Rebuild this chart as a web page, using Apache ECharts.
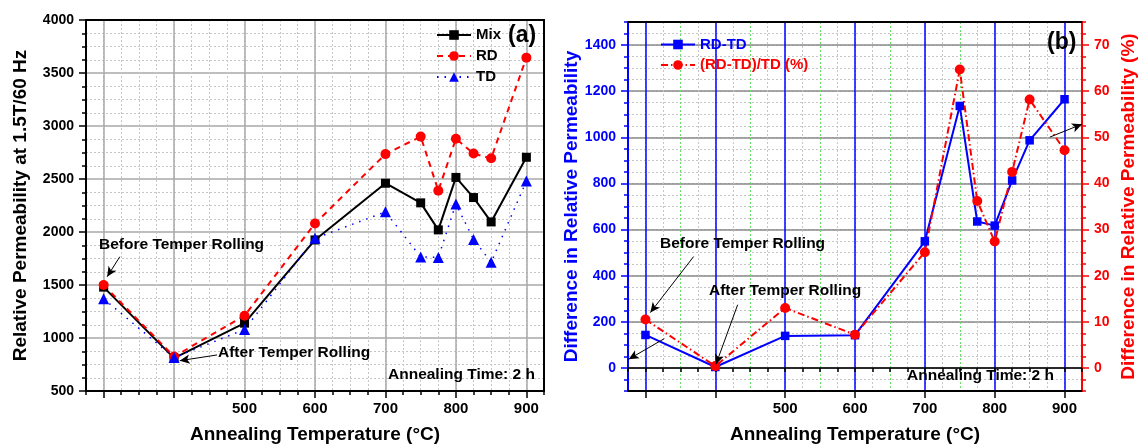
<!DOCTYPE html>
<html>
<head>
<meta charset="utf-8">
<script src="https://cdn.jsdelivr.net/npm/echarts@6/dist/echarts.min.js"></script>
<style>
  html, body { margin: 0; padding: 0; background: #fff; }
  #chart { width: 1139px; height: 445px; }
</style>
</head>
<body>
<div id="chart"></div>
<script>
// Sample positions on the temperature axis (300 = before, 400 = after temper rolling)
const xPositions = [300, 400, 500, 600, 700, 750, 775, 800, 825, 850, 900];
const xTickLabels = [500, 600, 700, 800, 900];
const xMajorTicks = [300, 400, 500, 600, 700, 800, 900];
const xHalfTicks = [350, 450, 550, 650, 750, 850];

// Panel (a): relative permeability at 1.5T / 60 Hz
const mixPerm = [1480, 810, 1140, 1925, 2460, 2275, 2020, 2515, 2325, 2095, 2705];
const rdPerm  = [1500, 825, 1210, 2080, 2735, 2900, 2390, 2880, 2740, 2695, 3645];
const tdPerm  = [1370, 815, 1080, 1940, 2190, 1765, 1760, 2265, 1930, 1715, 2480];

// Panel (b): RD-TD difference (absolute and percent)
const diffAbs = [143, 4, 139, 142, 549, 1136, 635, 617, 813, 987, 1165];
const diffPct = [10.5, 0.4, 13.0, 7.2, 25.1, 64.7, 36.2, 27.4, 42.5, 58.2, 47.2];
const leftTicksB = [0, 200, 400, 600, 800, 1000, 1200, 1400];
const rightTicksB = [0, 10, 20, 30, 40, 50, 60, 70];

const FONT = "'Liberation Sans', Arial, sans-serif";
const pairs = (xs, ys) => xs.map((x, i) => [x, ys[i]]);
const plain = (v) => String(v);

const chart = echarts.init(document.getElementById('chart'), null, { renderer: 'canvas' });

const boldLabel = (color, size, margin, extra) => Object.assign({
  show: true, color: color, fontFamily: FONT, fontWeight: 'bold', fontSize: size, margin: margin,
  formatter: plain
}, extra || {});
const nameStyle = (color) => ({ color: color, fontFamily: FONT, fontWeight: 'bold', fontSize: 19 });
const none = { show: false };

function xMinor(grid) {
  return {
    type: 'value', gridIndex: grid, min: 275, max: 925, interval: 25, position: 'bottom',
    axisLine: none,
    axisTick: { show: true, inside: false, length: 4, lineStyle: { color: '#000', width: 1.5 } },
    axisLabel: none,
    splitLine: { show: true, showMinLine: false, showMaxLine: false,
      lineStyle: { color: '#c6c6c6', width: 1, type: [2, 2] } }
  };
}
function xMajor(grid, gridColor, gridWidth) {
  return {
    type: 'value', gridIndex: grid, min: 275, max: 925, position: 'bottom',
    name: 'Annealing Temperature (\u00b0C)', nameLocation: 'middle', nameGap: 34,
    nameTextStyle: nameStyle('#000'),
    axisLine: { show: true, onZero: false, lineStyle: { color: '#000', width: 2 } },
    axisTick: { show: true, inside: false, length: 7, customValues: xMajorTicks,
      lineStyle: { color: '#000', width: 1.5 } },
    axisLabel: boldLabel('#000', 15, 10, { customValues: xTickLabels }),
    splitLine: { show: true, lineStyle: { color: gridColor, width: gridWidth } }
  };
}
function xTop(grid) {
  return {
    type: 'value', gridIndex: grid, min: 275, max: 925, position: 'top',
    axisLine: { show: true, onZero: false, lineStyle: { color: '#000', width: 2 } },
    axisTick: none, axisLabel: none, splitLine: none
  };
}

// Arrow from a text label towards a point, in data coordinates
const arrow = (from, to) => [
  { coord: from, symbol: 'none' },
  { coord: to, symbol: 'arrow', symbolSize: [7, 10] }
];

const textFont = "bold 15.5px 'Liberation Sans', Arial";
const note = (x, y, text, font) => ({
  type: 'text', x: x, y: y, z: 100,
  style: { text: text, fill: '#000', font: font || textFont, verticalAlign: 'middle' }
});

const option = {
  animation: false,
  backgroundColor: '#fff',
  textStyle: { fontFamily: FONT },
  grid: [
    { left: 86, top: 20, width: 458, height: 371, outerBoundsMode: 'none', containLabel: false },
    { left: 628, top: 22, width: 454, height: 369, outerBoundsMode: 'none', containLabel: false }
  ],
  legend: [
    {
      orient: 'vertical', left: 436, top: 27.5, padding: 0, itemWidth: 34, itemHeight: 12, itemGap: 6,
      data: ['Mix', 'RD', 'TD'],
      textStyle: { color: '#000', fontFamily: FONT, fontWeight: 'bold', fontSize: 15 }
    },
    {
      orient: 'vertical', left: 660, top: 37, padding: 0, itemWidth: 34, itemHeight: 12, itemGap: 5.5,
      data: [
        { name: 'RD-TD', textStyle: { color: '#0000ff' } },
        { name: '(RD-TD)/TD (%)', textStyle: { color: '#ff0000' } }
      ],
      textStyle: { fontFamily: FONT, fontWeight: 'bold', fontSize: 15 }
    }
  ],
  xAxis: [
    xMinor(0),                                  // 0
    xMajor(0, '#a9a9a9', 1.5),                  // 1
    xTop(0),                                    // 2
    xMinor(1),                                  // 3
    {                                           // 4: green dotted half-hundred lines
      type: 'value', gridIndex: 1, min: 275, max: 925, position: 'bottom',
      axisLine: none, axisTick: { show: false, customValues: xHalfTicks }, axisLabel: none,
      splitLine: { show: true, lineStyle: { color: '#66e066', width: 1, type: [2, 2] } }
    },
    xMajor(1, '#0000ff', 1.5),                  // 5
    xTop(1)                                     // 6
  ],
  yAxis: [
    {                                           // 0: panel (a)
      type: 'value', gridIndex: 0, min: 500, max: 4000, interval: 500, position: 'left',
      name: 'Relative Permeability at 1.5T/60 Hz', nameLocation: 'middle', nameGap: 56,
      nameRotate: 90, nameTextStyle: nameStyle('#000'),
      axisLine: { show: true, onZero: false, lineStyle: { color: '#000', width: 2 } },
      axisTick: { show: true, inside: false, length: 7, lineStyle: { color: '#000', width: 1.5 } },
      minorTick: { show: true, splitNumber: 4, length: 4, lineStyle: { color: '#000', width: 1.5 } },
      axisLabel: boldLabel('#000', 14, 12),
      splitLine: { show: true, showMaxLine: false, lineStyle: { color: '#a9a9a9', width: 1.5 } },
      minorSplitLine: { show: true, lineStyle: { color: '#c6c6c6', width: 1, type: [2, 2] } }
    },
    {                                           // 1: frame on the right of (a)
      type: 'value', gridIndex: 0, min: 500, max: 4000, position: 'right',
      axisLine: { show: true, onZero: false, lineStyle: { color: '#000', width: 2 } },
      axisTick: none, axisLabel: none, splitLine: none
    },
    {                                           // 2: (b) left minor
      type: 'value', gridIndex: 1, min: -100, max: 1500, interval: 50, position: 'left',
      axisLine: { show: true, onZero: false, lineStyle: { color: '#0000ff', width: 2 } },
      axisTick: { show: true, inside: false, length: 4, lineStyle: { color: '#0000ff', width: 1.5 } },
      axisLabel: none,
      splitLine: { show: true, showMinLine: false, showMaxLine: false,
        lineStyle: { color: '#c6c6c6', width: 1, type: [2, 2] } }
    },
    {                                           // 3: (b) left major
      type: 'value', gridIndex: 1, min: -100, max: 1500, position: 'left',
      name: 'Difference in Relative Permeability', nameLocation: 'middle', nameGap: 47,
      nameRotate: 90, nameTextStyle: nameStyle('#0000ff'),
      axisLine: none,
      axisTick: { show: true, inside: false, length: 7, customValues: leftTicksB,
        lineStyle: { color: '#0000ff', width: 1.5 } },
      axisLabel: boldLabel('#0000ff', 14, 12, { customValues: leftTicksB }),
      splitLine: { show: true, lineStyle: { color: '#8a8a8a', width: 1.5 } }
    },
    {                                           // 4: (b) right minor
      type: 'value', gridIndex: 1, min: -5, max: 75, interval: 2.5, position: 'right',
      axisLine: { show: true, onZero: false, lineStyle: { color: '#ff0000', width: 2 } },
      axisTick: { show: true, inside: false, length: 4, lineStyle: { color: '#ff0000', width: 1.5 } },
      axisLabel: none, splitLine: none
    },
    {                                           // 5: (b) right major
      type: 'value', gridIndex: 1, min: -5, max: 75, position: 'right',
      name: 'Difference in Relative Permeability (%)', nameLocation: 'middle', nameGap: 37,
      nameRotate: 90, nameTextStyle: nameStyle('#ff0000'),
      axisLine: none,
      axisTick: { show: true, inside: false, length: 7, customValues: rightTicksB,
        lineStyle: { color: '#ff0000', width: 1.5 } },
      axisLabel: boldLabel('#ff0000', 14, 12, { customValues: rightTicksB }),
      splitLine: none
    }
  ],
  series: [
    {
      name: 'Mix', type: 'line', xAxisIndex: 1, yAxisIndex: 0,
      data: pairs(xPositions, mixPerm),
      symbol: 'rect', symbolSize: 9, color: '#000',
      lineStyle: { color: '#000', width: 2 },
      itemStyle: { color: '#000' },
      markLine: {
        silent: true, symbol: ['none', 'arrow'], symbolSize: 9,
        label: none, lineStyle: { color: '#000', width: 1, type: 'solid' },
        itemStyle: { color: '#000' },
        data: [
          arrow([323, 1767], [305, 1578]),
          arrow([461, 840], [408, 786])
        ]
      }
    },
    {
      name: 'RD', type: 'line', xAxisIndex: 1, yAxisIndex: 0,
      data: pairs(xPositions, rdPerm),
      symbol: 'circle', symbolSize: 10, color: '#ff0000',
      lineStyle: { color: '#ff0000', width: 2, type: [6, 5] },
      itemStyle: { color: '#ff0000' }
    },
    {
      name: 'TD', type: 'line', xAxisIndex: 1, yAxisIndex: 0,
      data: pairs(xPositions, tdPerm),
      symbol: 'triangle', symbolSize: 11, color: '#0000ff',
      lineStyle: { color: '#0000ff', width: 1.5, type: [1.5, 6] },
      itemStyle: { color: '#0000ff' }
    },
    {
      name: 'RD-TD', type: 'line', xAxisIndex: 5, yAxisIndex: 3,
      data: pairs(xPositions, diffAbs),
      symbol: 'rect', symbolSize: 8.5, color: '#0000ff',
      lineStyle: { color: '#0000ff', width: 2 },
      itemStyle: { color: '#0000ff' },
      markLine: {
        silent: true, symbol: ['none', 'arrow'], symbolSize: 9,
        label: none, lineStyle: { color: '#000', width: 1, type: 'solid' },
        itemStyle: { color: '#000' },
        data: [
          arrow([369, 483], [307, 240]),
          arrow([432, 274], [401, 16]),
          arrow([327, 127], [276, 38]),
          arrow([879, 1001], [925, 1057])
        ]
      }
    },
    {
      name: '(RD-TD)/TD (%)', type: 'line', xAxisIndex: 5, yAxisIndex: 5,
      data: pairs(xPositions, diffPct),
      symbol: 'circle', symbolSize: 10, color: '#ff0000',
      lineStyle: { color: '#ff0000', width: 2, type: [7, 3, 1.5, 3] },
      itemStyle: { color: '#ff0000' },
      // zero reference line across panel (b)
      markLine: {
        silent: true, symbol: 'none', z: 1,
        label: none, lineStyle: { color: '#000', width: 1.5, type: 'solid' },
        data: [{ yAxis: 0 }]
      }
    }
  ],
  graphic: [
    note(99, 245, 'Before Temper Rolling'),
    note(218, 353, 'After Temper Rolling'),
    note(388, 374.5, 'Annealing Time: 2 h'),
    note(508, 36, '(a)', "bold 23px 'Liberation Sans', Arial"),
    note(660, 244, 'Before Temper Rolling'),
    note(709, 290.5, 'After Temper Rolling'),
    note(907, 375.5, 'Annealing Time: 2 h'),
    note(1047, 42.5, '(b)', "bold 23px 'Liberation Sans', Arial")
  ]
};

chart.setOption(option);
</script>
</body>
</html>
